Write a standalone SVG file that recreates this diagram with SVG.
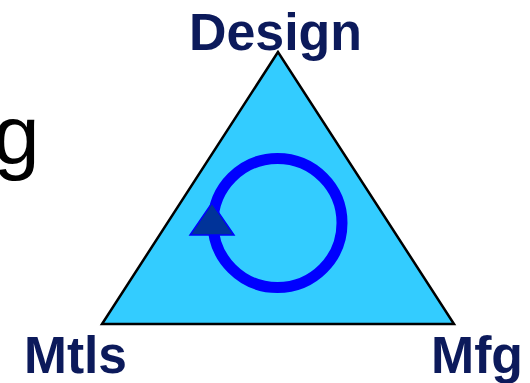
<svg xmlns="http://www.w3.org/2000/svg" width="530" height="383" viewBox="0 0 530 383">
<style>
.lbl{font-family:"Liberation Sans",Arial,sans-serif;font-weight:bold;font-size:51px;fill:#0C1A5B}
.big{font-family:"Liberation Sans",Arial,sans-serif;font-size:84px;fill:#000000}
</style>
<rect width="530" height="383" fill="#ffffff"/>
<text class="big" x="-7" y="164">g</text>
<g id="triangle">
<polygon points="278,52 102,324 454,324" fill="#33CCFF" stroke="#000000" stroke-width="2.5" stroke-linejoin="miter"/>
</g>
<g id="connectors">
<circle cx="277.5" cy="223" r="64.5" fill="none" stroke="#0000FF" stroke-width="11"/>
<polygon points="212,203 190,235 234,235" fill="#003399" stroke="#0000FF" stroke-width="1.5"/>
</g>
<g id="design"><text class="lbl" x="189" y="50" textLength="173" lengthAdjust="spacingAndGlyphs">Design</text></g>
<g id="mtls"><text class="lbl" x="24" y="373" textLength="103" lengthAdjust="spacingAndGlyphs">Mtls</text></g>
<g id="mfg"><text class="lbl" x="431" y="373" textLength="92" lengthAdjust="spacingAndGlyphs">Mfg</text></g>
</svg>
